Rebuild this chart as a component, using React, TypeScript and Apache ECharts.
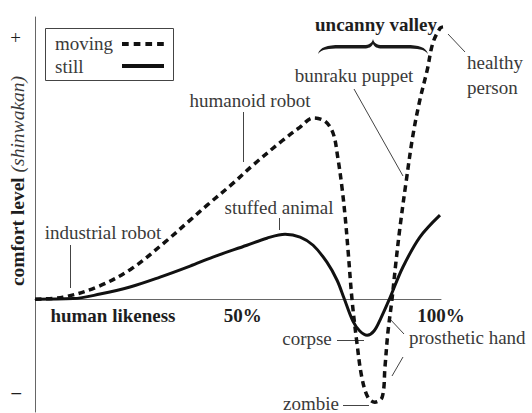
import React, { useEffect, useRef } from "react";
import * as echarts from "echarts";

// human likeness (0..100) and comfort level (shinwakan) for the moving curve
const likenessMoving = [0, 6.9, 15.3, 23.6, 32.0, 38.2, 42.4, 48.8, 53.7, 61.1, 65.3, 68.5, 71.4, 73.4, 74.6, 75.6, 76.4, 77.1, 78.1, 79.3, 80.5, 82.0, 83.7, 85.5, 86.2, 86.9, 87.9, 88.9, 89.9, 91.4, 93.1, 94.8, 96.6, 98.0, 99.8, 100.5];
const comfortMoving = [0, 0.7, 4.3, 10.6, 20.2, 28.0, 33.3, 41.1, 47.5, 56.4, 61.0, 64.2, 63.1, 58.9, 50.0, 39.7, 29.1, 17.4, -0.4, -15.6, -27.7, -34.8, -36.5, -34.8, -24.1, -12.1, -0.4, 13.1, 25.5, 41.5, 58.2, 70.6, 81.2, 90.8, 96.1, 96.5];
// still curve
const likenessStill = [0, 9.4, 16.0, 23.4, 30.8, 38.2, 43.8, 52.2, 57.1, 61.6, 65.3, 68.5, 71.9, 74.4, 76.1, 78.3, 80.0, 81.8, 83.5, 85.2, 87.4, 90.6, 94.8, 99.75];
const comfortStill = [0, 0.2, 1.8, 4.3, 7.8, 11.7, 14.9, 19.1, 21.6, 23.0, 22.0, 19.1, 13.1, 6.7, 0.4, -7.8, -11.3, -12.8, -11.3, -6.7, 0.4, 11.3, 22.0, 29.8];

const seriesNames = ["moving", "still"];
const xTickValues = [19.2, 51.2, 100];
const xTickLabels = ["human likeness", "50%", "100%"];
const yTickValues = [92.6, -32.6];
const yTickLabels = ["+", "–"];

const Y_MIN = -40;
const Y_MAX = 100;
const GRID_TOP = 17;
const GRID_BOTTOM = 1;
const CHART_H = 413;

const FONT = "Liberation Serif, DejaVu Serif, Times New Roman, Times, serif";
const TXT = "#3a3a3a";
const DARK = "#1e1e1e";

const bracePath =
  "M0 15 C2 8 9 6 22 6 L46 6 C51 6 54 4 55 0 C56 4 59 6 64 6 L88 6 C101 6 108 8 110 15 C106 10 100 9.5 88 9.5 L64 9.5 C59 9.5 56.5 8 55 5 C53.5 8 51 9.5 46 9.5 L22 9.5 C10 9.5 4 10 0 15 Z";

let braceRegistered = false;

function label(text: string, x: number, y: number, align = "center", extra: any = {}) {
  return {
    type: "text",
    x,
    y,
    style: {
      text,
      fill: TXT,
      fontFamily: FONT,
      fontSize: 19,
      align,
      verticalAlign: "middle",
      ...extra,
    },
  };
}

function leader(x1: number, y1: number, x2: number, y2: number) {
  return {
    type: "line",
    shape: { x1, y1, x2, y2 },
    style: { stroke: "#444", lineWidth: 1 },
  };
}

export default function App() {
  const ref = useRef<HTMLDivElement>(null);

  useEffect(() => {
    if (!ref.current) return;
    if (!braceRegistered) {
      echarts.graphic.registerShape("brace", echarts.graphic.extendPath(bracePath, {}));
      braceRegistered = true;
    }
    const chart = echarts.init(ref.current, undefined, { renderer: "svg" });

    const plotH = CHART_H - GRID_TOP - GRID_BOTTOM;
    const zeroOffset = -(plotH * (0 - Y_MIN)) / (Y_MAX - Y_MIN);

    const option: any = {
      animation: false,
      backgroundColor: "#fff",
      textStyle: { fontFamily: FONT },
      grid: { left: 35, right: 91, top: GRID_TOP, bottom: GRID_BOTTOM, containLabel: false, outerBoundsMode: "none" },
      xAxis: {
        type: "value",
        min: 0,
        max: 100,
        offset: zeroOffset,
        axisLine: { show: true, onZero: false, lineStyle: { color: "#666", width: 1 } },
        axisTick: { show: false },
        splitLine: { show: false },
        axisLabel: {
          customValues: xTickValues,
          margin: 7,
          formatter: (v: number) => {
            const i = xTickValues.indexOf(v);
            return i >= 0 ? xTickLabels[i] : "";
          },
          fontFamily: FONT,
          fontSize: 19,
          fontWeight: "bold",
          color: DARK,
        },
      },
      yAxis: {
        type: "value",
        min: Y_MIN,
        max: Y_MAX,
        axisLine: { show: true, lineStyle: { color: "#666", width: 1 } },
        axisTick: { show: false },
        splitLine: { show: false },
        axisLabel: {
          customValues: yTickValues,
          margin: 14,
          formatter: (v: number) => {
            const i = yTickValues.indexOf(v);
            if (i < 0) return "";
            return i === 0 ? `{p|${yTickLabels[i]}}` : `{m|${yTickLabels[i]}}`;
          },
          rich: {
            p: { fontFamily: FONT, fontSize: 19, color: DARK },
            m: { fontFamily: FONT, fontSize: 19, fontWeight: "bold", color: DARK },
          },
        },
      },
      series: [
        {
          name: seriesNames[0],
          type: "line",
          data: likenessMoving.map((x, i) => [x, comfortMoving[i]]),
          smooth: 0.35,
          symbol: "none",
          clip: false,
          silent: true,
          lineStyle: { color: "#111", width: 3.5, type: [6.5, 4.5], cap: "butt" },
          z: 3,
        },
        {
          name: seriesNames[1],
          type: "line",
          data: likenessStill.map((x, i) => [x, comfortStill[i]]),
          smooth: 0.35,
          symbol: "none",
          clip: false,
          silent: true,
          lineStyle: { color: "#111", width: 3 },
          z: 2,
        },
      ],
      graphic: [
        // legend
        {
          type: "rect",
          shape: { x: 45.5, y: 28.5, width: 128, height: 52 },
          style: { fill: "#fff", stroke: "#444", lineWidth: 1 },
          z: 10,
        },
        { ...label(seriesNames[0], 55, 43, "left"), z: 11 },
        { ...label(seriesNames[1], 55, 66, "left"), z: 11 },
        {
          type: "line",
          shape: { x1: 122, y1: 44, x2: 164, y2: 44 },
          style: { stroke: "#111", lineWidth: 4, lineDash: [6.7, 5] },
          z: 11,
        },
        {
          type: "line",
          shape: { x1: 122, y1: 66, x2: 164, y2: 66 },
          style: { stroke: "#111", lineWidth: 4 },
          z: 11,
        },
        // y axis title
        {
          type: "text",
          x: 17,
          y: 181,
          rotation: Math.PI / 2,
          style: {
            text: "{b|comfort level} {i|(shinwakan)}",
            align: "center",
            verticalAlign: "middle",
            fontFamily: FONT,
            fontSize: 19.5,
            rich: {
              b: { fontFamily: FONT, fontSize: 19.5, fontWeight: "bold", fill: DARK },
              i: { fontFamily: FONT, fontSize: 19.5, fontStyle: "italic", fill: TXT },
            },
          },
        },
        // annotations
        label("humanoid robot", 250, 100),
        leader(243.5, 112, 243.5, 162),
        label("stuffed animal", 279, 207),
        leader(279.5, 218, 279.5, 230),
        label("industrial robot", 103, 232),
        leader(70.5, 245, 70.5, 288),
        label("uncanny valley", 376, 24, "center", { fill: DARK, fontWeight: "bold" }),
        { type: "brace", x: 318, y: 39, style: { fill: "#1a1a1a", stroke: null } },
        label("bunraku puppet", 354, 75),
        leader(354, 89, 403, 176),
        label("healthy", 467, 62, "left"),
        label("person", 467, 87, "left"),
        leader(448, 34, 465, 52),
        label("corpse", 307, 338),
        leader(337, 340.5, 364, 340.5),
        label("prosthetic hand", 409, 337, "left"),
        leader(404, 334, 389, 318),
        leader(403, 357, 392, 376),
        label("zombie", 311, 403),
        leader(343, 405.5, 369, 405.5),
      ],
    };

    chart.setOption(option);
    return () => {
      chart.dispose();
    };
  }, []);

  return (
    <div
      ref={ref}
      style={{ position: "fixed", left: 0, top: 0, width: 532, height: 413, background: "#fff" }}
    />
  );
}
